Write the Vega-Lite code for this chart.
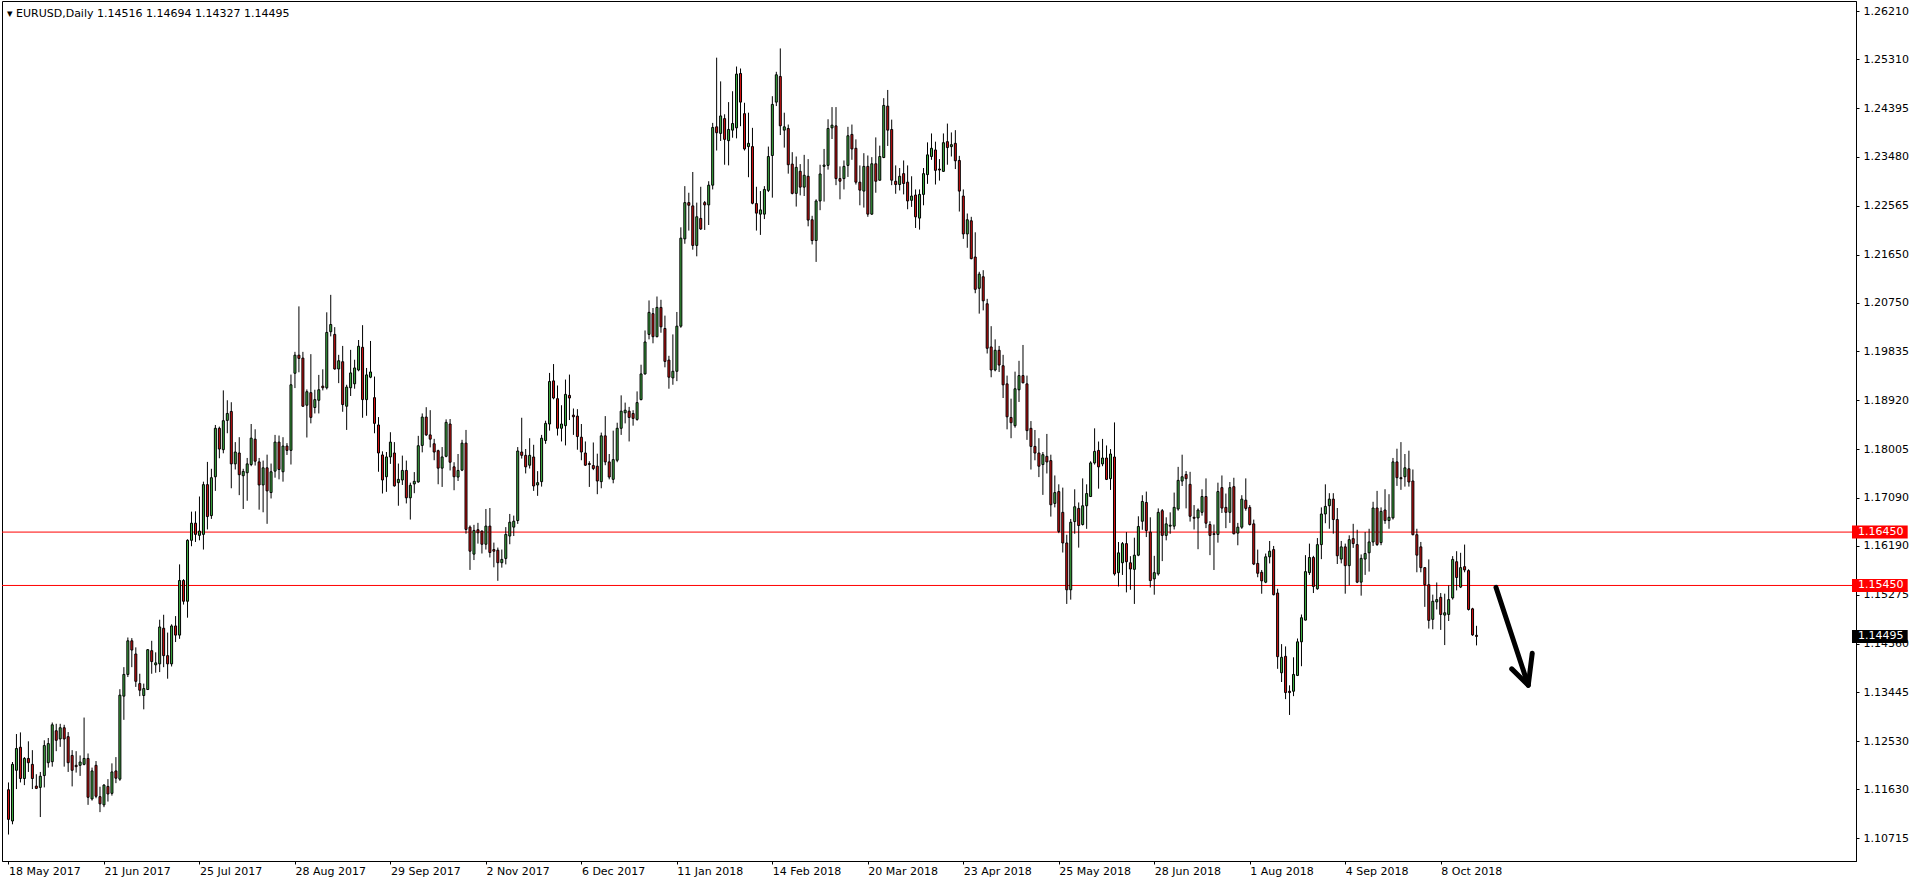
{
"$schema": "https://vega.github.io/schema/vega-lite/v6.json",
"width": 1854, "height": 860,
"autosize": "none",
"padding": {"left": 2, "top": 1, "right": 60, "bottom": 23},
"background": "#ffffff",
"config": {"view": {"stroke": "#000000", "strokeWidth": 1}},
"datasets": {
"header": [{"label": "▾    EURUSD,Daily  1.14516 1.14694 1.14327 1.14495"}],
"levels": [{"price": 1.1645}, {"price": 1.1545}],
"tags": [{"price": 1.1645, "kind": "level"}, {"price": 1.1545, "kind": "level"}, {"price": 1.14495, "kind": "last"}],
"arrow": [{"seg": "shaft", "k": 0, "i": 373.9, "p": 1.15413}, {"seg": "shaft", "k": 1, "i": 382.0, "p": 1.1358}, {"seg": "head", "k": 0, "i": 377.85, "p": 1.13887}, {"seg": "head", "k": 1, "i": 382.0, "p": 1.1358}, {"seg": "head", "k": 2, "i": 383.0, "p": 1.14178}],
"candles": [
{"i":0,"o":1.11623,"h":1.11759,"l":1.10783,"c":1.11067},
{"i":1,"o":1.11037,"h":1.12142,"l":1.10975,"c":1.12098},
{"i":2,"o":1.11987,"h":1.12666,"l":1.11635,"c":1.12395},
{"i":3,"o":1.12419,"h":1.12697,"l":1.11759,"c":1.11833},
{"i":4,"o":1.11833,"h":1.12234,"l":1.11709,"c":1.12209},
{"i":5,"o":1.12209,"h":1.12530,"l":1.11956,"c":1.12129},
{"i":6,"o":1.12098,"h":1.12364,"l":1.11635,"c":1.11833},
{"i":7,"o":1.11691,"h":1.11913,"l":1.11635,"c":1.11648},
{"i":8,"o":1.11666,"h":1.11956,"l":1.11111,"c":1.11876},
{"i":9,"o":1.11888,"h":1.12549,"l":1.11666,"c":1.12450},
{"i":10,"o":1.12129,"h":1.12592,"l":1.12037,"c":1.12487},
{"i":11,"o":1.12148,"h":1.12882,"l":1.12055,"c":1.12839},
{"i":12,"o":1.12728,"h":1.12858,"l":1.12345,"c":1.12549},
{"i":13,"o":1.12574,"h":1.12858,"l":1.12426,"c":1.12784},
{"i":14,"o":1.12784,"h":1.12839,"l":1.12055,"c":1.12574},
{"i":15,"o":1.12617,"h":1.12703,"l":1.11956,"c":1.12129},
{"i":16,"o":1.12265,"h":1.12364,"l":1.11685,"c":1.11987},
{"i":17,"o":1.12080,"h":1.12345,"l":1.11944,"c":1.12055},
{"i":18,"o":1.12080,"h":1.12265,"l":1.11882,"c":1.12142},
{"i":19,"o":1.12098,"h":1.12975,"l":1.12080,"c":1.12209},
{"i":20,"o":1.12209,"h":1.12302,"l":1.11339,"c":1.11481},
{"i":21,"o":1.11450,"h":1.12037,"l":1.11419,"c":1.11975},
{"i":22,"o":1.12080,"h":1.12160,"l":1.11463,"c":1.11500},
{"i":23,"o":1.11493,"h":1.11679,"l":1.11203,"c":1.11358},
{"i":24,"o":1.11339,"h":1.11728,"l":1.11296,"c":1.11709},
{"i":25,"o":1.11685,"h":1.11821,"l":1.11401,"c":1.11543},
{"i":26,"o":1.11555,"h":1.12117,"l":1.11512,"c":1.11956},
{"i":27,"o":1.11975,"h":1.12234,"l":1.11746,"c":1.11839},
{"i":28,"o":1.11821,"h":1.13506,"l":1.11790,"c":1.13395},
{"i":29,"o":1.13376,"h":1.13919,"l":1.12932,"c":1.13783},
{"i":30,"o":1.13783,"h":1.14475,"l":1.13734,"c":1.14413},
{"i":31,"o":1.14413,"h":1.14463,"l":1.13919,"c":1.14240},
{"i":32,"o":1.14166,"h":1.14290,"l":1.13549,"c":1.13654},
{"i":33,"o":1.13611,"h":1.13796,"l":1.13376,"c":1.13487},
{"i":34,"o":1.13388,"h":1.13611,"l":1.13129,"c":1.13518},
{"i":35,"o":1.13500,"h":1.14259,"l":1.13500,"c":1.14246},
{"i":36,"o":1.14228,"h":1.14413,"l":1.13796,"c":1.14024},
{"i":37,"o":1.13963,"h":1.14197,"l":1.13814,"c":1.14000},
{"i":38,"o":1.13981,"h":1.14808,"l":1.13827,"c":1.14672},
{"i":39,"o":1.14648,"h":1.14901,"l":1.13919,"c":1.14135},
{"i":40,"o":1.14135,"h":1.14567,"l":1.13703,"c":1.13981},
{"i":41,"o":1.13981,"h":1.14722,"l":1.13932,"c":1.14691},
{"i":42,"o":1.14691,"h":1.14876,"l":1.14390,"c":1.14520},
{"i":43,"o":1.14520,"h":1.15845,"l":1.14450,"c":1.15543},
{"i":44,"o":1.15543,"h":1.15568,"l":1.15092,"c":1.15154},
{"i":45,"o":1.15154,"h":1.16315,"l":1.14846,"c":1.16296},
{"i":46,"o":1.16296,"h":1.16833,"l":1.16185,"c":1.16617},
{"i":47,"o":1.16617,"h":1.16839,"l":1.16265,"c":1.16407},
{"i":48,"o":1.16389,"h":1.17117,"l":1.16296,"c":1.16469},
{"i":49,"o":1.16407,"h":1.17395,"l":1.16123,"c":1.17339},
{"i":50,"o":1.17339,"h":1.17765,"l":1.16500,"c":1.16741},
{"i":51,"o":1.16759,"h":1.17636,"l":1.16697,"c":1.17469},
{"i":52,"o":1.17487,"h":1.18457,"l":1.17222,"c":1.18395},
{"i":53,"o":1.18395,"h":1.18426,"l":1.17833,"c":1.18006},
{"i":54,"o":1.17994,"h":1.19105,"l":1.17926,"c":1.18537},
{"i":55,"o":1.18543,"h":1.18920,"l":1.18302,"c":1.18673},
{"i":56,"o":1.18710,"h":1.18883,"l":1.17271,"c":1.17728},
{"i":57,"o":1.17728,"h":1.18136,"l":1.17623,"c":1.17950},
{"i":58,"o":1.17932,"h":1.18228,"l":1.17142,"c":1.17525},
{"i":59,"o":1.17506,"h":1.17636,"l":1.16883,"c":1.17586},
{"i":60,"o":1.17562,"h":1.17839,"l":1.17037,"c":1.17728},
{"i":61,"o":1.17716,"h":1.18475,"l":1.17685,"c":1.18210},
{"i":62,"o":1.18191,"h":1.18376,"l":1.17697,"c":1.17778},
{"i":63,"o":1.17765,"h":1.17839,"l":1.16870,"c":1.17333},
{"i":64,"o":1.17333,"h":1.17790,"l":1.16821,"c":1.17654},
{"i":65,"o":1.17654,"h":1.17901,"l":1.16605,"c":1.17222},
{"i":66,"o":1.17191,"h":1.17734,"l":1.17080,"c":1.17580},
{"i":67,"o":1.17592,"h":1.18271,"l":1.17469,"c":1.18136},
{"i":68,"o":1.18136,"h":1.18259,"l":1.17438,"c":1.17623},
{"i":69,"o":1.17580,"h":1.18228,"l":1.17395,"c":1.18062},
{"i":70,"o":1.18062,"h":1.18117,"l":1.17895,"c":1.17981},
{"i":71,"o":1.17981,"h":1.19401,"l":1.17716,"c":1.19210},
{"i":72,"o":1.19426,"h":1.19827,"l":1.19148,"c":1.19765},
{"i":73,"o":1.19765,"h":1.20679,"l":1.19444,"c":1.19704},
{"i":74,"o":1.19710,"h":1.19827,"l":1.18796,"c":1.18808},
{"i":75,"o":1.18827,"h":1.19123,"l":1.18222,"c":1.19080},
{"i":76,"o":1.19062,"h":1.19784,"l":1.18487,"c":1.18599},
{"i":77,"o":1.18784,"h":1.19117,"l":1.18673,"c":1.18932},
{"i":78,"o":1.18920,"h":1.19395,"l":1.18673,"c":1.19117},
{"i":79,"o":1.19185,"h":1.19500,"l":1.19105,"c":1.19154},
{"i":80,"o":1.19154,"h":1.20568,"l":1.19123,"c":1.20191},
{"i":81,"o":1.20204,"h":1.20895,"l":1.20117,"c":1.20339},
{"i":82,"o":1.20154,"h":1.20290,"l":1.19494,"c":1.19506},
{"i":83,"o":1.19506,"h":1.19771,"l":1.19241,"c":1.19660},
{"i":84,"o":1.19642,"h":1.19938,"l":1.18704,"c":1.18839},
{"i":85,"o":1.18808,"h":1.19210,"l":1.18364,"c":1.19167},
{"i":86,"o":1.19154,"h":1.19864,"l":1.19000,"c":1.19432},
{"i":87,"o":1.19228,"h":1.19679,"l":1.19136,"c":1.19525},
{"i":88,"o":1.19487,"h":1.20049,"l":1.19463,"c":1.19932},
{"i":89,"o":1.19913,"h":1.20327,"l":1.18592,"c":1.18932},
{"i":90,"o":1.18932,"h":1.19525,"l":1.18629,"c":1.19395},
{"i":91,"o":1.19352,"h":1.20031,"l":1.19333,"c":1.19450},
{"i":92,"o":1.18969,"h":1.19364,"l":1.18302,"c":1.18487},
{"i":93,"o":1.18457,"h":1.18605,"l":1.17580,"c":1.17932},
{"i":94,"o":1.17895,"h":1.17963,"l":1.17173,"c":1.17426},
{"i":95,"o":1.17487,"h":1.17950,"l":1.17204,"c":1.17858},
{"i":96,"o":1.17858,"h":1.18321,"l":1.17728,"c":1.18136},
{"i":97,"o":1.17932,"h":1.18136,"l":1.17302,"c":1.17315},
{"i":98,"o":1.17376,"h":1.17734,"l":1.16944,"c":1.17438},
{"i":99,"o":1.17426,"h":1.17883,"l":1.17333,"c":1.17605},
{"i":100,"o":1.17605,"h":1.17790,"l":1.16987,"c":1.17092},
{"i":101,"o":1.17092,"h":1.17376,"l":1.16685,"c":1.17327},
{"i":102,"o":1.17352,"h":1.17574,"l":1.17179,"c":1.17401},
{"i":103,"o":1.17389,"h":1.18253,"l":1.17376,"c":1.18068},
{"i":104,"o":1.18074,"h":1.18673,"l":1.17944,"c":1.18605},
{"i":105,"o":1.18605,"h":1.18790,"l":1.18253,"c":1.18271},
{"i":106,"o":1.18271,"h":1.18734,"l":1.18037,"c":1.18191},
{"i":107,"o":1.18105,"h":1.18197,"l":1.17796,"c":1.17950},
{"i":108,"o":1.17975,"h":1.17994,"l":1.17346,"c":1.17648},
{"i":109,"o":1.17648,"h":1.18043,"l":1.17296,"c":1.17858},
{"i":110,"o":1.17870,"h":1.18562,"l":1.17852,"c":1.18506},
{"i":111,"o":1.18475,"h":1.18568,"l":1.17605,"c":1.17759},
{"i":112,"o":1.17673,"h":1.17759,"l":1.17234,"c":1.17487},
{"i":113,"o":1.17481,"h":1.17913,"l":1.17407,"c":1.17605},
{"i":114,"o":1.17611,"h":1.18179,"l":1.17592,"c":1.18117},
{"i":115,"o":1.18117,"h":1.18364,"l":1.16420,"c":1.16500},
{"i":116,"o":1.16543,"h":1.16574,"l":1.15741,"c":1.16092},
{"i":117,"o":1.16037,"h":1.16586,"l":1.15926,"c":1.16481},
{"i":118,"o":1.16494,"h":1.16623,"l":1.16234,"c":1.16438},
{"i":119,"o":1.16469,"h":1.16481,"l":1.16049,"c":1.16222},
{"i":120,"o":1.16222,"h":1.16883,"l":1.16123,"c":1.16562},
{"i":121,"o":1.16562,"h":1.16901,"l":1.15975,"c":1.16068},
{"i":122,"o":1.16123,"h":1.16253,"l":1.15790,"c":1.16092},
{"i":123,"o":1.16111,"h":1.16160,"l":1.15537,"c":1.15876},
{"i":124,"o":1.15876,"h":1.16123,"l":1.15784,"c":1.15938},
{"i":125,"o":1.15956,"h":1.16543,"l":1.15845,"c":1.16407},
{"i":126,"o":1.16376,"h":1.16790,"l":1.16222,"c":1.16635},
{"i":127,"o":1.16543,"h":1.16759,"l":1.16376,"c":1.16654},
{"i":128,"o":1.16666,"h":1.18043,"l":1.16604,"c":1.17969},
{"i":129,"o":1.17950,"h":1.18592,"l":1.17827,"c":1.17888},
{"i":130,"o":1.17888,"h":1.18006,"l":1.17549,"c":1.17672},
{"i":131,"o":1.17703,"h":1.18209,"l":1.17641,"c":1.17888},
{"i":132,"o":1.17857,"h":1.18086,"l":1.17222,"c":1.17314},
{"i":133,"o":1.17333,"h":1.17592,"l":1.17129,"c":1.17376},
{"i":134,"o":1.17395,"h":1.18271,"l":1.17302,"c":1.18209},
{"i":135,"o":1.18166,"h":1.18537,"l":1.18104,"c":1.18487},
{"i":136,"o":1.18475,"h":1.19432,"l":1.18351,"c":1.19271},
{"i":137,"o":1.19283,"h":1.19598,"l":1.18938,"c":1.18962},
{"i":138,"o":1.18950,"h":1.19197,"l":1.18259,"c":1.18395},
{"i":139,"o":1.18395,"h":1.18827,"l":1.18148,"c":1.18475},
{"i":140,"o":1.18444,"h":1.19308,"l":1.18074,"c":1.19030},
{"i":141,"o":1.19012,"h":1.19401,"l":1.18549,"c":1.18962},
{"i":142,"o":1.18641,"h":1.18765,"l":1.18271,"c":1.18611},
{"i":143,"o":1.18623,"h":1.18753,"l":1.17993,"c":1.18240},
{"i":144,"o":1.18228,"h":1.18475,"l":1.17796,"c":1.17950},
{"i":145,"o":1.17932,"h":1.18148,"l":1.17690,"c":1.17703},
{"i":146,"o":1.17734,"h":1.17777,"l":1.17296,"c":1.17716},
{"i":147,"o":1.17697,"h":1.18129,"l":1.17611,"c":1.17641},
{"i":148,"o":1.17685,"h":1.17919,"l":1.17160,"c":1.17407},
{"i":149,"o":1.17395,"h":1.18314,"l":1.17271,"c":1.18253},
{"i":150,"o":1.18253,"h":1.18623,"l":1.17703,"c":1.17765},
{"i":151,"o":1.17765,"h":1.17913,"l":1.17438,"c":1.17481},
{"i":152,"o":1.17438,"h":1.18351,"l":1.17364,"c":1.17808},
{"i":153,"o":1.17796,"h":1.18499,"l":1.17759,"c":1.18395},
{"i":154,"o":1.18395,"h":1.19012,"l":1.18271,"c":1.18716},
{"i":155,"o":1.18685,"h":1.18876,"l":1.18487,"c":1.18734},
{"i":156,"o":1.18716,"h":1.18796,"l":1.18148,"c":1.18598},
{"i":157,"o":1.18672,"h":1.18734,"l":1.18444,"c":1.18580},
{"i":158,"o":1.18561,"h":1.19086,"l":1.18537,"c":1.18876},
{"i":159,"o":1.18932,"h":1.19586,"l":1.18919,"c":1.19413},
{"i":160,"o":1.19413,"h":1.20228,"l":1.19401,"c":1.20012},
{"i":161,"o":1.20154,"h":1.20790,"l":1.20061,"c":1.20567},
{"i":162,"o":1.20543,"h":1.20648,"l":1.19987,"c":1.20111},
{"i":163,"o":1.20111,"h":1.20864,"l":1.20100,"c":1.20660},
{"i":164,"o":1.20660,"h":1.20802,"l":1.20185,"c":1.20296},
{"i":165,"o":1.20265,"h":1.20506,"l":1.19537,"c":1.19648},
{"i":166,"o":1.19673,"h":1.19753,"l":1.19136,"c":1.19352},
{"i":167,"o":1.19339,"h":1.20154,"l":1.19210,"c":1.19463},
{"i":168,"o":1.19463,"h":1.20574,"l":1.19278,"c":1.20308},
{"i":169,"o":1.20308,"h":1.22160,"l":1.20278,"c":1.21957},
{"i":170,"o":1.21944,"h":1.22932,"l":1.21852,"c":1.22623},
{"i":171,"o":1.22623,"h":1.22808,"l":1.22099,"c":1.22574},
{"i":172,"o":1.22562,"h":1.23197,"l":1.21741,"c":1.21821},
{"i":173,"o":1.21821,"h":1.22623,"l":1.21617,"c":1.22358},
{"i":174,"o":1.22327,"h":1.22920,"l":1.22111,"c":1.22129},
{"i":175,"o":1.22623,"h":1.22654,"l":1.22111,"c":1.22580},
{"i":176,"o":1.22580,"h":1.23024,"l":1.22204,"c":1.22950},
{"i":177,"o":1.22950,"h":1.24117,"l":1.22870,"c":1.24031},
{"i":178,"o":1.24043,"h":1.25339,"l":1.23599,"c":1.23932},
{"i":179,"o":1.23920,"h":1.24895,"l":1.23778,"c":1.24247},
{"i":180,"o":1.24197,"h":1.24278,"l":1.23333,"c":1.23808},
{"i":181,"o":1.23784,"h":1.24506,"l":1.23321,"c":1.23994},
{"i":182,"o":1.23981,"h":1.24710,"l":1.23839,"c":1.24105},
{"i":183,"o":1.24024,"h":1.25173,"l":1.23827,"c":1.25031},
{"i":184,"o":1.25043,"h":1.25136,"l":1.24055,"c":1.24506},
{"i":185,"o":1.24290,"h":1.24494,"l":1.23599,"c":1.23629},
{"i":186,"o":1.23673,"h":1.24308,"l":1.23099,"c":1.23734},
{"i":187,"o":1.23673,"h":1.24024,"l":1.22592,"c":1.22611},
{"i":188,"o":1.22605,"h":1.22920,"l":1.22099,"c":1.22426},
{"i":189,"o":1.22407,"h":1.22839,"l":1.22018,"c":1.22487},
{"i":190,"o":1.22407,"h":1.22932,"l":1.22315,"c":1.22870},
{"i":191,"o":1.22852,"h":1.23673,"l":1.22821,"c":1.23487},
{"i":192,"o":1.23506,"h":1.24617,"l":1.22716,"c":1.24463},
{"i":193,"o":1.24506,"h":1.25074,"l":1.24432,"c":1.25018},
{"i":194,"o":1.24987,"h":1.25512,"l":1.23889,"c":1.24062},
{"i":195,"o":1.23981,"h":1.24308,"l":1.23654,"c":1.24043},
{"i":196,"o":1.24012,"h":1.24086,"l":1.23166,"c":1.23333},
{"i":197,"o":1.23345,"h":1.23568,"l":1.22778,"c":1.22796},
{"i":198,"o":1.22796,"h":1.23487,"l":1.22549,"c":1.23284},
{"i":199,"o":1.23210,"h":1.23345,"l":1.22759,"c":1.22913},
{"i":200,"o":1.22913,"h":1.23518,"l":1.22747,"c":1.23136},
{"i":201,"o":1.23117,"h":1.23438,"l":1.22179,"c":1.22296},
{"i":202,"o":1.22302,"h":1.22376,"l":1.21839,"c":1.21913},
{"i":203,"o":1.21913,"h":1.22685,"l":1.21512,"c":1.22654},
{"i":204,"o":1.22654,"h":1.23333,"l":1.22481,"c":1.23160},
{"i":205,"o":1.23302,"h":1.23629,"l":1.22642,"c":1.23327},
{"i":206,"o":1.23321,"h":1.24185,"l":1.23241,"c":1.24012},
{"i":207,"o":1.24024,"h":1.24413,"l":1.23815,"c":1.24074},
{"i":208,"o":1.24061,"h":1.24413,"l":1.22950,"c":1.23073},
{"i":209,"o":1.23073,"h":1.23302,"l":1.22685,"c":1.23024},
{"i":210,"o":1.23073,"h":1.23413,"l":1.22870,"c":1.23302},
{"i":211,"o":1.23320,"h":1.24043,"l":1.23104,"c":1.23876},
{"i":212,"o":1.23901,"h":1.24086,"l":1.23425,"c":1.23629},
{"i":213,"o":1.23641,"h":1.23808,"l":1.22962,"c":1.23006},
{"i":214,"o":1.23006,"h":1.23320,"l":1.22573,"c":1.22857},
{"i":215,"o":1.22839,"h":1.23549,"l":1.22530,"c":1.23302},
{"i":216,"o":1.23302,"h":1.23506,"l":1.22357,"c":1.22407},
{"i":217,"o":1.22407,"h":1.23475,"l":1.22394,"c":1.23351},
{"i":218,"o":1.23351,"h":1.23845,"l":1.22808,"c":1.23024},
{"i":219,"o":1.23043,"h":1.23691,"l":1.23036,"c":1.23487},
{"i":220,"o":1.23468,"h":1.24580,"l":1.23456,"c":1.24444},
{"i":221,"o":1.24431,"h":1.24734,"l":1.23685,"c":1.23981},
{"i":222,"o":1.23993,"h":1.24178,"l":1.22950,"c":1.23043},
{"i":223,"o":1.23024,"h":1.23320,"l":1.22789,"c":1.22962},
{"i":224,"o":1.22962,"h":1.23271,"l":1.22851,"c":1.23117},
{"i":225,"o":1.23166,"h":1.23413,"l":1.22777,"c":1.22981},
{"i":226,"o":1.23006,"h":1.23320,"l":1.22499,"c":1.22654},
{"i":227,"o":1.22666,"h":1.23117,"l":1.22543,"c":1.22746},
{"i":228,"o":1.22765,"h":1.22870,"l":1.22148,"c":1.22357},
{"i":229,"o":1.22333,"h":1.22870,"l":1.22117,"c":1.22777},
{"i":230,"o":1.22777,"h":1.23271,"l":1.22573,"c":1.23166},
{"i":231,"o":1.23148,"h":1.23752,"l":1.22975,"c":1.23518},
{"i":232,"o":1.23487,"h":1.23919,"l":1.23425,"c":1.23641},
{"i":233,"o":1.23610,"h":1.23765,"l":1.22962,"c":1.23228},
{"i":234,"o":1.23252,"h":1.23438,"l":1.23036,"c":1.23234},
{"i":235,"o":1.23209,"h":1.23919,"l":1.23197,"c":1.23746},
{"i":236,"o":1.23765,"h":1.24104,"l":1.23333,"c":1.23654},
{"i":237,"o":1.23672,"h":1.23938,"l":1.23487,"c":1.23709},
{"i":238,"o":1.23734,"h":1.23981,"l":1.23252,"c":1.23407},
{"i":239,"o":1.23413,"h":1.23499,"l":1.22456,"c":1.22839},
{"i":240,"o":1.22746,"h":1.22870,"l":1.21944,"c":1.22036},
{"i":241,"o":1.22036,"h":1.22419,"l":1.21777,"c":1.22302},
{"i":242,"o":1.22283,"h":1.22357,"l":1.21561,"c":1.21573},
{"i":243,"o":1.21604,"h":1.22067,"l":1.20925,"c":1.20999},
{"i":244,"o":1.21018,"h":1.21327,"l":1.20543,"c":1.21283},
{"i":245,"o":1.21234,"h":1.21357,"l":1.20604,"c":1.20783},
{"i":246,"o":1.20728,"h":1.20820,"l":1.19796,"c":1.19894},
{"i":247,"o":1.19919,"h":1.20308,"l":1.19351,"c":1.19487},
{"i":248,"o":1.19487,"h":1.20061,"l":1.19462,"c":1.19857},
{"i":249,"o":1.19857,"h":1.19938,"l":1.19450,"c":1.19580},
{"i":250,"o":1.19567,"h":1.19771,"l":1.18962,"c":1.19209},
{"i":251,"o":1.19227,"h":1.19382,"l":1.18375,"c":1.18610},
{"i":252,"o":1.18598,"h":1.18950,"l":1.18209,"c":1.18499},
{"i":253,"o":1.18443,"h":1.19456,"l":1.18406,"c":1.19135},
{"i":254,"o":1.19116,"h":1.19659,"l":1.18888,"c":1.19382},
{"i":255,"o":1.19382,"h":1.19956,"l":1.19240,"c":1.19246},
{"i":256,"o":1.19227,"h":1.19382,"l":1.18178,"c":1.18351},
{"i":257,"o":1.18394,"h":1.18530,"l":1.17622,"c":1.18055},
{"i":258,"o":1.18055,"h":1.18363,"l":1.17795,"c":1.17931},
{"i":259,"o":1.17931,"h":1.18209,"l":1.17480,"c":1.17684},
{"i":260,"o":1.17715,"h":1.17950,"l":1.17147,"c":1.17900},
{"i":261,"o":1.17869,"h":1.18289,"l":1.17548,"c":1.17764},
{"i":262,"o":1.17789,"h":1.17900,"l":1.16740,"c":1.16962},
{"i":263,"o":1.16987,"h":1.17511,"l":1.16913,"c":1.17190},
{"i":264,"o":1.17209,"h":1.17345,"l":1.16430,"c":1.16462},
{"i":265,"o":1.16820,"h":1.17283,"l":1.16067,"c":1.16246},
{"i":266,"o":1.16246,"h":1.16400,"l":1.15104,"c":1.15369},
{"i":267,"o":1.15369,"h":1.16696,"l":1.15184,"c":1.16635},
{"i":268,"o":1.16647,"h":1.17252,"l":1.16419,"c":1.16925},
{"i":269,"o":1.16894,"h":1.17005,"l":1.16159,"c":1.16573},
{"i":270,"o":1.16592,"h":1.17456,"l":1.16573,"c":1.16943},
{"i":271,"o":1.16943,"h":1.17345,"l":1.16511,"c":1.17172},
{"i":272,"o":1.17116,"h":1.17777,"l":1.17110,"c":1.17746},
{"i":273,"o":1.17746,"h":1.18394,"l":1.17715,"c":1.17962},
{"i":274,"o":1.17980,"h":1.18147,"l":1.17264,"c":1.17672},
{"i":275,"o":1.17727,"h":1.18196,"l":1.17684,"c":1.17838},
{"i":276,"o":1.17838,"h":1.18073,"l":1.17425,"c":1.17437},
{"i":277,"o":1.17450,"h":1.18005,"l":1.17240,"c":1.17913},
{"i":278,"o":1.17857,"h":1.18505,"l":1.15635,"c":1.15666},
{"i":279,"o":1.15690,"h":1.16264,"l":1.15431,"c":1.16061},
{"i":280,"o":1.15875,"h":1.16264,"l":1.15647,"c":1.16234},
{"i":281,"o":1.16234,"h":1.16450,"l":1.15320,"c":1.15894},
{"i":282,"o":1.15875,"h":1.15999,"l":1.15369,"c":1.15758},
{"i":283,"o":1.15752,"h":1.16345,"l":1.15104,"c":1.16017},
{"i":284,"o":1.16017,"h":1.16746,"l":1.15999,"c":1.16555},
{"i":285,"o":1.16653,"h":1.17141,"l":1.16493,"c":1.17024},
{"i":286,"o":1.17005,"h":1.17209,"l":1.16357,"c":1.16480},
{"i":287,"o":1.16450,"h":1.16727,"l":1.15413,"c":1.15542},
{"i":288,"o":1.15573,"h":1.16005,"l":1.15277,"c":1.15690},
{"i":289,"o":1.15666,"h":1.16894,"l":1.15635,"c":1.16820},
{"i":290,"o":1.16851,"h":1.16882,"l":1.15906,"c":1.16388},
{"i":291,"o":1.16388,"h":1.16727,"l":1.16295,"c":1.16604},
{"i":292,"o":1.16561,"h":1.16820,"l":1.16419,"c":1.16579},
{"i":293,"o":1.16561,"h":1.17190,"l":1.16499,"c":1.16913},
{"i":294,"o":1.16882,"h":1.17672,"l":1.16851,"c":1.17419},
{"i":295,"o":1.17406,"h":1.17900,"l":1.17314,"c":1.17487},
{"i":296,"o":1.17530,"h":1.17592,"l":1.16894,"c":1.17450},
{"i":297,"o":1.17345,"h":1.17579,"l":1.16647,"c":1.16746},
{"i":298,"o":1.16727,"h":1.16956,"l":1.16499,"c":1.16709},
{"i":299,"o":1.16715,"h":1.16894,"l":1.16129,"c":1.16863},
{"i":300,"o":1.16820,"h":1.17252,"l":1.16758,"c":1.17116},
{"i":301,"o":1.17116,"h":1.17456,"l":1.16524,"c":1.16616},
{"i":302,"o":1.16592,"h":1.16653,"l":1.16018,"c":1.16388},
{"i":303,"o":1.16419,"h":1.16592,"l":1.15740,"c":1.16406},
{"i":304,"o":1.16406,"h":1.17376,"l":1.16252,"c":1.17209},
{"i":305,"o":1.17283,"h":1.17511,"l":1.16808,"c":1.16900},
{"i":306,"o":1.16913,"h":1.17172,"l":1.16524,"c":1.16820},
{"i":307,"o":1.16820,"h":1.17388,"l":1.16622,"c":1.17283},
{"i":308,"o":1.17301,"h":1.17468,"l":1.16406,"c":1.16419},
{"i":309,"o":1.16431,"h":1.16622,"l":1.16203,"c":1.16542},
{"i":310,"o":1.16542,"h":1.17141,"l":1.16511,"c":1.17067},
{"i":311,"o":1.17048,"h":1.17456,"l":1.16851,"c":1.16894},
{"i":312,"o":1.16913,"h":1.16956,"l":1.16573,"c":1.16592},
{"i":313,"o":1.16604,"h":1.16684,"l":1.15832,"c":1.15851},
{"i":314,"o":1.15863,"h":1.16122,"l":1.15604,"c":1.15678},
{"i":315,"o":1.15697,"h":1.15740,"l":1.15295,"c":1.15536},
{"i":316,"o":1.15511,"h":1.16048,"l":1.15493,"c":1.15987},
{"i":317,"o":1.15987,"h":1.16283,"l":1.15863,"c":1.16092},
{"i":318,"o":1.16122,"h":1.16190,"l":1.15264,"c":1.15277},
{"i":319,"o":1.15308,"h":1.15388,"l":1.13888,"c":1.14116},
{"i":320,"o":1.13814,"h":1.14351,"l":1.13641,"c":1.14104},
{"i":321,"o":1.14122,"h":1.14308,"l":1.13320,"c":1.13443},
{"i":322,"o":1.13468,"h":1.13579,"l":1.13024,"c":1.13443},
{"i":323,"o":1.13468,"h":1.14104,"l":1.13376,"c":1.13783},
{"i":324,"o":1.13764,"h":1.14456,"l":1.13752,"c":1.14394},
{"i":325,"o":1.14394,"h":1.14906,"l":1.13937,"c":1.14845},
{"i":326,"o":1.14801,"h":1.16018,"l":1.14795,"c":1.15709},
{"i":327,"o":1.15690,"h":1.16234,"l":1.15647,"c":1.15974},
{"i":328,"o":1.15974,"h":1.16005,"l":1.15308,"c":1.15431},
{"i":329,"o":1.15388,"h":1.16338,"l":1.15369,"c":1.16215},
{"i":330,"o":1.16215,"h":1.16913,"l":1.15943,"c":1.16789},
{"i":331,"o":1.16789,"h":1.17345,"l":1.16616,"c":1.16931},
{"i":332,"o":1.16944,"h":1.17179,"l":1.16512,"c":1.17068},
{"i":333,"o":1.17068,"h":1.17179,"l":1.16420,"c":1.16685},
{"i":334,"o":1.16685,"h":1.16901,"l":1.15852,"c":1.16006},
{"i":335,"o":1.15944,"h":1.16284,"l":1.15864,"c":1.16173},
{"i":336,"o":1.16173,"h":1.16234,"l":1.15296,"c":1.15821},
{"i":337,"o":1.15821,"h":1.16389,"l":1.15450,"c":1.16308},
{"i":338,"o":1.16327,"h":1.16605,"l":1.16154,"c":1.16234},
{"i":339,"o":1.16216,"h":1.16494,"l":1.15494,"c":1.15512},
{"i":340,"o":1.15512,"h":1.16031,"l":1.15259,"c":1.15957},
{"i":341,"o":1.15944,"h":1.16450,"l":1.15648,"c":1.16049},
{"i":342,"o":1.16062,"h":1.16512,"l":1.15710,"c":1.16265},
{"i":343,"o":1.16265,"h":1.17018,"l":1.16191,"c":1.16901},
{"i":344,"o":1.16901,"h":1.17222,"l":1.16191,"c":1.16216},
{"i":345,"o":1.16253,"h":1.16913,"l":1.16204,"c":1.16839},
{"i":346,"o":1.16864,"h":1.17253,"l":1.16605,"c":1.16666},
{"i":347,"o":1.16666,"h":1.17160,"l":1.16512,"c":1.16728},
{"i":348,"o":1.16716,"h":1.17839,"l":1.16685,"c":1.17765},
{"i":349,"o":1.17765,"h":1.18012,"l":1.17315,"c":1.17469},
{"i":350,"o":1.17469,"h":1.18136,"l":1.17241,"c":1.17450},
{"i":351,"o":1.17487,"h":1.17913,"l":1.17302,"c":1.17654},
{"i":352,"o":1.17636,"h":1.17975,"l":1.17302,"c":1.17389},
{"i":353,"o":1.17407,"h":1.17623,"l":1.16389,"c":1.16401},
{"i":354,"o":1.16401,"h":1.16512,"l":1.15697,"c":1.16018},
{"i":355,"o":1.16173,"h":1.16265,"l":1.15697,"c":1.15784},
{"i":356,"o":1.15784,"h":1.15790,"l":1.15049,"c":1.15463},
{"i":357,"o":1.15463,"h":1.15938,"l":1.14642,"c":1.14796},
{"i":358,"o":1.14815,"h":1.15278,"l":1.14629,"c":1.15154},
{"i":359,"o":1.15142,"h":1.15506,"l":1.15000,"c":1.15185},
{"i":360,"o":1.15228,"h":1.15308,"l":1.14617,"c":1.14907},
{"i":361,"o":1.14895,"h":1.15296,"l":1.14333,"c":1.14938},
{"i":362,"o":1.14907,"h":1.15450,"l":1.14784,"c":1.15185},
{"i":363,"o":1.15216,"h":1.16000,"l":1.15185,"c":1.15938},
{"i":364,"o":1.15895,"h":1.16092,"l":1.15358,"c":1.15599},
{"i":365,"o":1.15420,"h":1.16062,"l":1.15401,"c":1.15784},
{"i":366,"o":1.15802,"h":1.16216,"l":1.15697,"c":1.15741},
{"i":367,"o":1.15728,"h":1.15753,"l":1.14981,"c":1.15000},
{"i":368,"o":1.15012,"h":1.15031,"l":1.14506,"c":1.14524},
{"i":369,"o":1.14516,"h":1.14694,"l":1.14327,"c":1.14495}
]
},
"layer": [
{
"data": {"name": "levels"},
"mark": {"type": "rule", "color": "#ff0000", "strokeWidth": 1},
"encoding": {
"y": {"field": "price", "type": "quantitative", "scale": {"domain": [1.10381, 1.26307], "nice": false, "zero": false},
"axis": {"orient": "right", "title": null, "values": [1.26210,1.25310,1.24395,1.23480,1.22565,1.21650,1.20750,1.19835,1.18920,1.18005,1.17090,1.16190,1.15275,1.14360,1.13445,1.12530,1.11630,1.10715], "format": ".5f", "labelFont": "DejaVu Sans", "labelFontSize": 11, "labelColor": "#000000", "tickColor": "#000000", "tickSize": 3, "labelPadding": 4, "domainColor": "#000000", "grid": false, "labelOverlap": false, "labelBaseline": "middle", "labelFlush": false, "labelBound": false}}
}
},
{
"data": {"name": "candles"},
"mark": {"type": "rule", "color": "#000000", "strokeWidth": 1},
"encoding": {
"x": {"field": "i", "type": "quantitative", "scale": {"domain": [-0.375, 463.125], "nice": false, "zero": false},
"axis": {"orient": "bottom", "title": null, "values": [0,24,48,72,96,120,144,168,192,216,240,264,288,312,336,360], "labelExpr": "['18 May 2017','21 Jun 2017','25 Jul 2017','28 Aug 2017','29 Sep 2017','2 Nov 2017','6 Dec 2017','11 Jan 2018','14 Feb 2018','20 Mar 2018','23 Apr 2018','25 May 2018','28 Jun 2018','1 Aug 2018','4 Sep 2018','8 Oct 2018'][round(datum.value/24)]", "labelAlign": "left", "labelFont": "DejaVu Sans", "labelFontSize": 11, "labelColor": "#000000", "tickColor": "#000000", "tickSize": 3, "labelPadding": 1, "domainColor": "#000000", "grid": false, "labelOverlap": false, "labelFlush": false, "labelBound": false}},
"y": {"field": "l", "type": "quantitative", "title": null, "scale": {"domain": [1.10381, 1.26307], "nice": false, "zero": false}},
"y2": {"field": "h"}
}
},
{
"data": {"name": "candles"},
"mark": {"type": "bar", "size": 2, "stroke": "#000000", "strokeWidth": 1, "orient": "vertical"},
"encoding": {
"x": {"field": "i", "type": "quantitative", "title": null, "scale": {"domain": [-0.375, 463.125], "nice": false, "zero": false}},
"y": {"field": "o", "type": "quantitative", "title": null, "scale": {"domain": [1.10381, 1.26307], "nice": false, "zero": false}},
"y2": {"field": "c"},
"fill": {"condition": {"test": "datum.c >= datum.o", "value": "#3fb043"}, "value": "#d41111"}
}
},
{
"data": {"name": "arrow"},
"mark": {"type": "line", "color": "#000000", "strokeWidth": 5, "strokeCap": "round", "strokeJoin": "round"},
"encoding": {
"x": {"field": "i", "type": "quantitative", "title": null, "scale": {"domain": [-0.375, 463.125], "nice": false, "zero": false}},
"y": {"field": "p", "type": "quantitative", "title": null, "scale": {"domain": [1.10381, 1.26307], "nice": false, "zero": false}},
"detail": {"field": "seg"},
"order": {"field": "k"}
}
},
{
"data": {"name": "tags"},
"mark": {"type": "bar", "orient": "horizontal", "size": 13},
"encoding": {
"x": {"datum": 463.375, "type": "quantitative", "scale": {"domain": [-0.375, 463.125], "nice": false, "zero": false}},
"x2": {"datum": 477.375},
"y": {"field": "price", "type": "quantitative", "title": null, "scale": {"domain": [1.10381, 1.26307], "nice": false, "zero": false}},
"fill": {"condition": {"test": "datum.kind === 'last'", "value": "#000000"}, "value": "#ff0000"}
}
},
{
"data": {"name": "tags"},
"mark": {"type": "text", "align": "left", "baseline": "middle", "font": "DejaVu Sans", "fontSize": 11, "color": "#ffffff"},
"encoding": {
"x": {"datum": 464.875, "type": "quantitative", "scale": {"domain": [-0.375, 463.125], "nice": false, "zero": false}},
"y": {"field": "price", "type": "quantitative", "title": null, "scale": {"domain": [1.10381, 1.26307], "nice": false, "zero": false}},
"text": {"field": "price", "type": "quantitative", "format": ".5f"}
}
},
{
"data": {"name": "header"},
"mark": {"type": "text", "align": "left", "baseline": "alphabetic", "font": "DejaVu Sans", "fontSize": 11, "color": "#000000"},
"encoding": {
"x": {"datum": -0.375, "type": "quantitative", "scale": {"domain": [-0.375, 463.125], "nice": false, "zero": false}},
"y": {"datum": 1.26109, "type": "quantitative", "scale": {"domain": [1.10381, 1.26307], "nice": false, "zero": false}},
"text": {"field": "label"}
}
}
]
}
